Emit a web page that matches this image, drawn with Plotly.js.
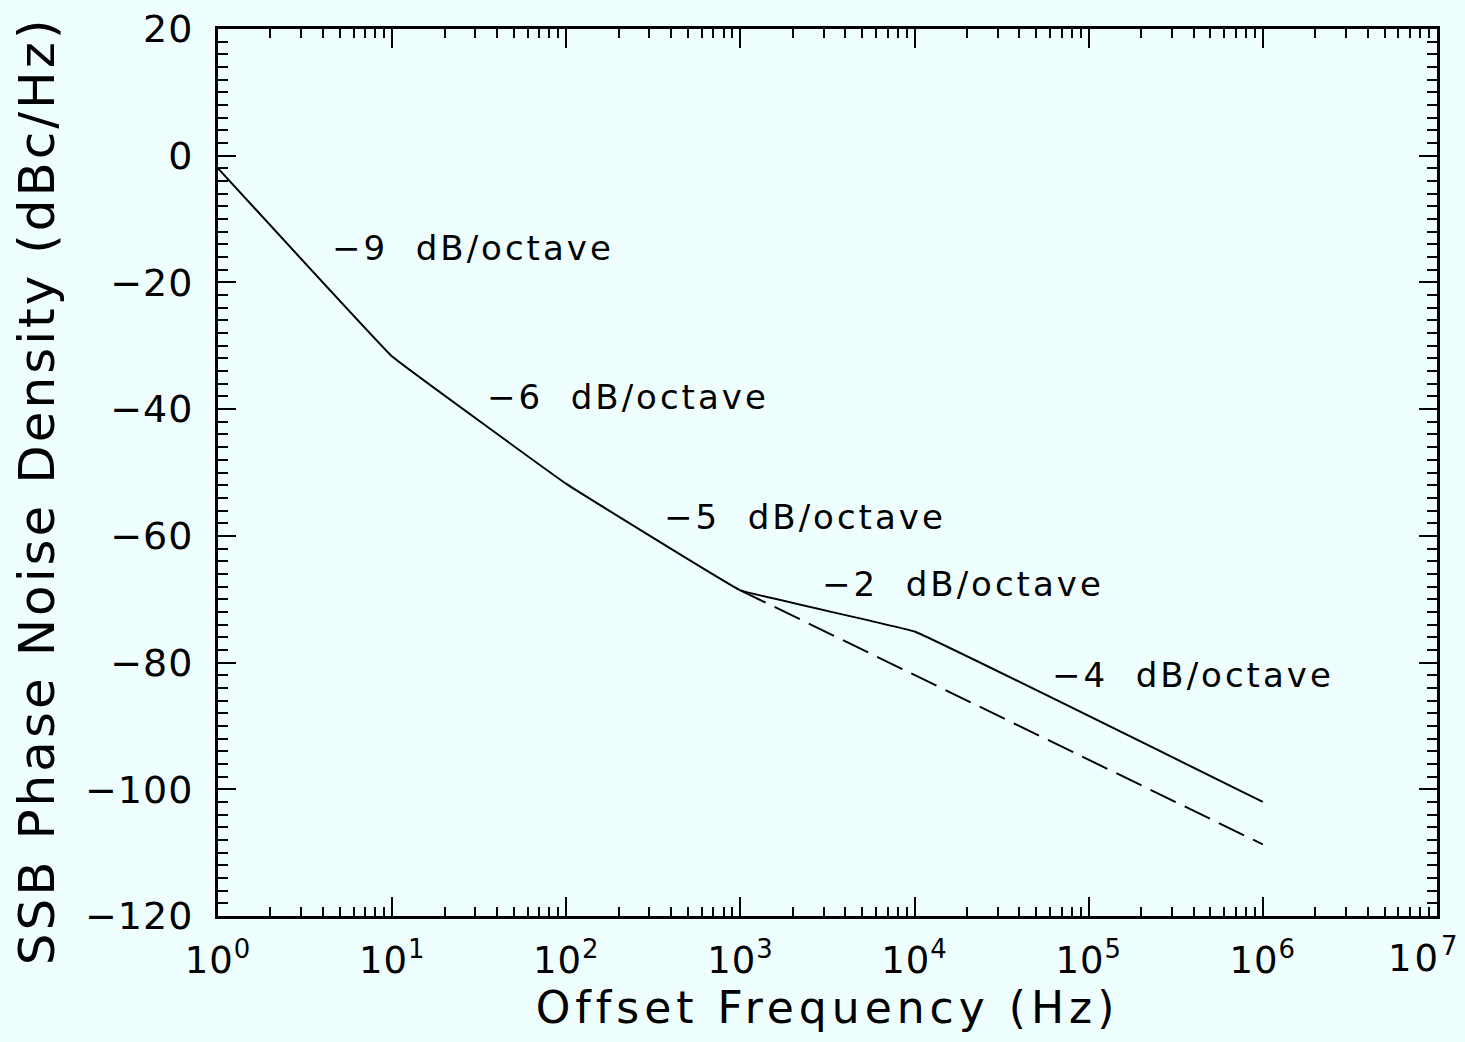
<!DOCTYPE html>
<html>
<head>
<meta charset="utf-8">
<script src="https://cdn.plot.ly/plotly-3.0.1.min.js"></script>
<style>
html,body{margin:0;padding:0;background:#effefe;}
#chart{width:1465px;height:1042px;}
.annotation-text{letter-spacing:3px;}
.xtitle{letter-spacing:5px;}
.xtick text,.ytick text{letter-spacing:1px;}
</style>
</head>
<body>
<div id="chart"></div>
<script>
// Solid curve: measured phase noise (Hz, dBc/Hz)
const solidFreq = [1, 10, 100, 1000, 10000, 1000000];
const solidNoise = [-2, -31.7, -51.8, -68.6, -75.1, -102];
// Dashed curve: extrapolation beyond 1 kHz
const dashFreq = [1000, 1000000];
const dashNoise = [-68.6, -108.7];
// Slope labels
const slopeLabels = ["\u22129  dB/octave", "\u22126  dB/octave", "\u22125  dB/octave", "\u22122  dB/octave", "\u22124  dB/octave"];
const slopeLabelX = [0.643, 1.534, 2.550, 3.458, 4.779]; // log10 Hz
const slopeLabelY = [-14.6, -38.1, -57.0, -67.6, -82.0];
// Axis titles
const xTitle = 'Offset Frequency (Hz)';
const yTitle = 'SSB Phase Noise Density (dBc/Hz)';
// Tick labels
const decadeVals = [1, 10, 100, 1000, 10000, 100000, 1000000, 10000000];
const decadeText = ["10<sup>0</sup>", "10<sup>1</sup>", "10<sup>2</sup>", "10<sup>3</sup>", "10<sup>4</sup>", "10<sup>5</sup>", "10<sup>6</sup>", "10<sup>7</sup>"];
const yTickVals = [-120, -100, -80, -60, -40, -20, 0, 20];
const yTickText = ["\u2212120", "\u2212100", "\u221280", "\u221260", "\u221240", "\u221220", "0", "20"];

const minorX = [];
for (let k = 0; k < decadeVals.length - 1; k++) {
  for (let m = 2; m <= 9; m++) minorX.push(decadeVals[k] * m);
}
// last decade label is drawn as an annotation so it stays inside the page
const tickTextShown = decadeText.slice(0, -1).concat(['']);

const FONT = "DejaVu Sans, sans-serif";

const traces = [
  {x: solidFreq, y: solidNoise, mode: 'lines', line: {color: '#000', width: 2, shape: 'spline', smoothing: 0.15}, showlegend: false, hoverinfo: 'skip'},
  {x: dashFreq, y: dashNoise, mode: 'lines', line: {color: '#000', width: 2, dash: '28px,10px'}, showlegend: false, hoverinfo: 'skip'}
];

const annotations = slopeLabels.map((t, i) => ({
  x: slopeLabelX[i], y: slopeLabelY[i], xref: 'x', yref: 'y',
  text: t, showarrow: false, xanchor: 'left', yanchor: 'middle',
  font: {family: FONT, size: 34, color: '#000'}
}));
annotations.push({
  x: -0.1485, y: 0.48, xref: 'paper', yref: 'paper',
  text: yTitle, textangle: -90, showarrow: false,
  xanchor: 'center', yanchor: 'middle',
  font: {family: FONT, size: 50, color: '#000'}
});
annotations.push({
  x: 1.0205, y: -0.0155, xref: 'paper', yref: 'paper',
  text: decadeText[decadeText.length - 1], showarrow: false,
  xanchor: 'right', yanchor: 'top', borderpad: 0,
  font: {family: FONT, size: 37, color: '#000'}
});

const layout = {
  width: 1465, height: 1042,
  paper_bgcolor: '#effefe', plot_bgcolor: '#effefe',
  margin: {l: 218, r: 28, t: 29, b: 126},
  showlegend: false,
  font: {family: FONT, color: '#000'},
  xaxis: {
    type: 'log', range: [-0.0004, 7.0004],
    tickmode: 'array', tickvals: decadeVals, ticktext: tickTextShown,
    ticks: 'inside', ticklen: 19, tickwidth: 2, tickcolor: '#000',
    minor: {tickmode: 'array', tickvals: minorX, ticks: 'inside', ticklen: 9, tickwidth: 2, tickcolor: '#000', showgrid: false},
    showline: true, linecolor: '#000', linewidth: 3, mirror: 'allticks',
    showgrid: false, zeroline: false,
    ticklabelstandoff: 10,
    tickfont: {family: FONT, size: 37, color: '#000'},
    title: {text: xTitle, font: {family: FONT, size: 44, color: '#000'}, standoff: 4}
  },
  yaxis: {
    range: [-120, 20],
    tickmode: 'array', tickvals: yTickVals, ticktext: yTickText,
    ticks: 'inside', ticklen: 18, tickwidth: 2, tickcolor: '#000',
    minor: {dtick: 2, ticks: 'inside', ticklen: 10, tickwidth: 2, tickcolor: '#000', showgrid: false},
    showline: true, linecolor: '#000', linewidth: 3, mirror: 'allticks',
    showgrid: false, zeroline: false,
    ticklabelstandoff: 14,
    tickfont: {family: FONT, size: 38, color: '#000'}
  },
  annotations: annotations
};

Plotly.newPlot('chart', traces, layout, {displayModeBar: false, staticPlot: true});
</script>
</body>
</html>
